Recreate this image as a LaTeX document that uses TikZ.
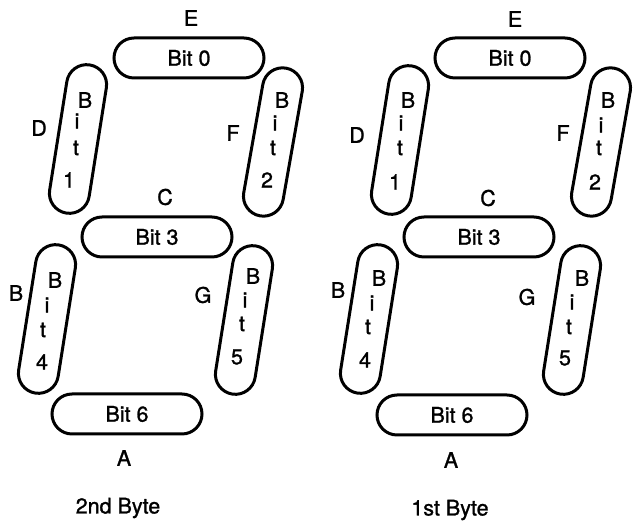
\documentclass[tikz,border=0pt]{standalone}
\usepackage{fontspec}
\setmainfont{TeX Gyre Heros}[FakeBold=1.2]
\usetikzlibrary{shapes.misc}

\begin{document}
\begin{tikzpicture}[x=0.5pt,y=-0.5pt,
	seg/.style={draw=black, line width=1.5pt, rounded rectangle, minimum width=75pt, minimum height=20pt, inner sep=0pt},
	every node/.append style={font=\fontsize{10.75}{12}\selectfont}]
	\useasboundingbox (0,0) rectangle (634,523);
	% 2nd byte
	\node [seg] (l0) at (189,58) {Bit 0};
	\node [seg, rotate=81] (l1) at (78,139) {};
	\node [seg, rotate=80] (l2) at (273,142) {};
	\node [seg] (l3) at (157,237) {Bit 3};
	\node [seg, rotate=81] (l4) at (47,319) {};
	\node [seg, rotate=81] (l5) at (244,320) {};
	\node [seg] (l6) at (127,414) {Bit 6};
	\node (l1b) at (85,100) {B};
	\node (l1i) at (77,121) {i};
	\node (l1t) at (76,148) {t};
	\node (l1n) at (69,180) {1};
	\node (l2b) at (282,100) {B};
	\node (l2i) at (275,123) {i};
	\node (l2t) at (273,148) {t};
	\node (l2n) at (267,180) {2};
	\node (l4b) at (55,280) {B};
	\node (l4i) at (47,305) {i};
	\node (l4t) at (43,330) {t};
	\node (l4n) at (42,362) {4};
	\node (l5b) at (253,276) {B};
	\node (l5i) at (245,300) {i};
	\node (l5t) at (242,324) {t};
	\node (l5n) at (237,357) {5};
	\node (lE) at (191,18) {E};
	\node (lD) at (39,128) {D};
	\node (lF) at (233,133) {F};
	\node (lC) at (165,197) {C};
	\node (lB) at (16,293) {B};
	\node (lG) at (203,295) {G};
	\node (lA) at (124,458) {A};
	\node (lbyte) at (118,508) {2nd Byte};
	% 1st byte
	\node [seg] (r0) at (510,58) {Bit 0};
	\node [seg, rotate=81] (r1) at (400,140) {};
	\node [seg, rotate=80] (r2) at (601,142) {};
	\node [seg] (r3) at (479,237) {Bit 3};
	\node [seg, rotate=81] (r4) at (369,319) {};
	\node [seg, rotate=81] (r5) at (572,320) {};
	\node [seg] (r6) at (452,415) {Bit 6};
	\node (r1b) at (408,100) {B};
	\node (r1i) at (401,123) {i};
	\node (r1t) at (400,148) {t};
	\node (r1n) at (395,182) {1};
	\node (r2b) at (608,100) {B};
	\node (r2i) at (601,125) {i};
	\node (r2t) at (599,148) {t};
	\node (r2n) at (595,182) {2};
	\node (r4b) at (379,278) {B};
	\node (r4i) at (372,303) {i};
	\node (r4t) at (368,327) {t};
	\node (r4n) at (365,360) {4};
	\node (r5b) at (582,278) {B};
	\node (r5i) at (572,302) {i};
	\node (r5t) at (569,327) {t};
	\node (r5n) at (565,358) {5};
	\node (rE) at (515,19) {E};
	\node (rD) at (357,135) {D};
	\node (rF) at (563,133) {F};
	\node (rC) at (488,198) {C};
	\node (rB) at (338,290) {B};
	\node (rG) at (527,297) {G};
	\node (rA) at (451,460) {A};
	\node (rbyte) at (450,510) {1st Byte};
\end{tikzpicture}
\end{document}
